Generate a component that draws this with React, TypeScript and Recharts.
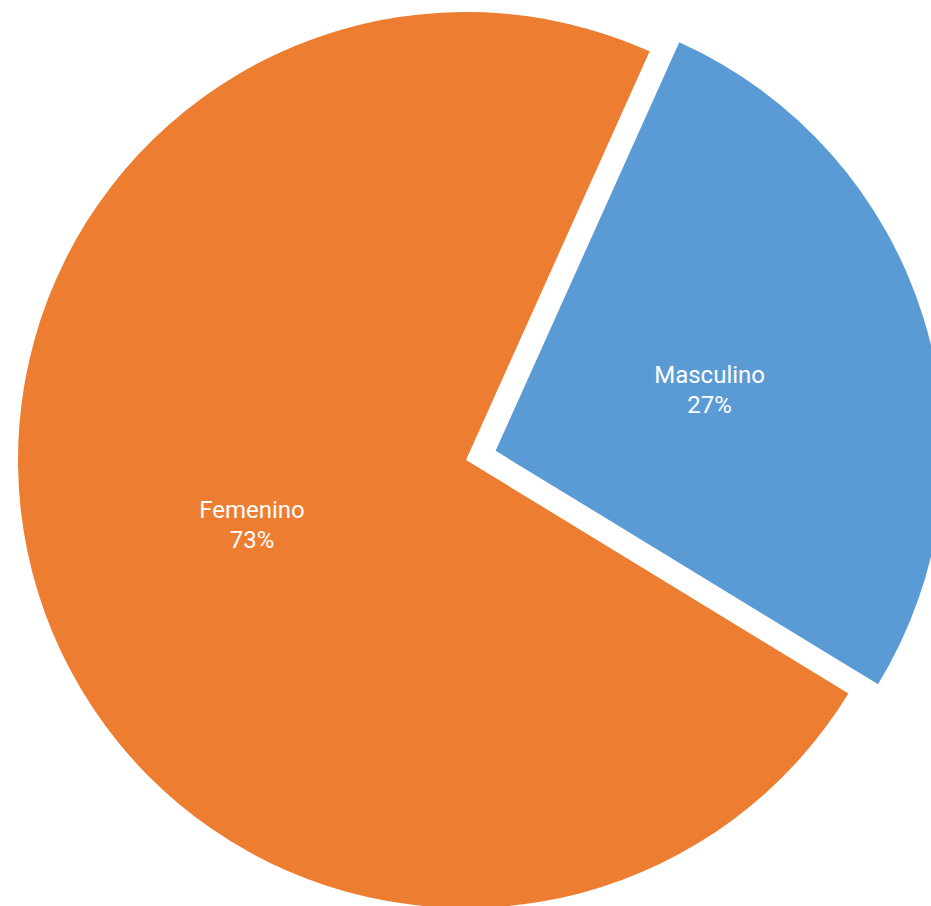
import React from 'react';
import { PieChart, Pie, Cell, Sector } from 'recharts';

const categories = ['Masculino', 'Femenino'];
const values = [27, 73];
const colors = ['#5B9BD5', '#ED7D31'];
const exploded = [true, false];

const data = categories.map((name, i) => ({ name, value: values[i], explode: exploded[i] }));

const RADIAN = Math.PI / 180;
const EXPLODE = 31;

const offsetFor = (midAngle: number, explode: boolean) => {
    if (!explode) return { dx: 0, dy: 0 };
    return { dx: EXPLODE * Math.cos(-midAngle * RADIAN), dy: EXPLODE * Math.sin(-midAngle * RADIAN) };
};

const renderShape = (props: any) => {
    const { cx, cy, midAngle, payload } = props;
    const { dx, dy } = offsetFor(midAngle, payload && payload.explode);
    return <Sector {...props} cx={cx + dx} cy={cy + dy} />;
};

const renderLabel = (props: any) => {
    const { cx, cy, midAngle, outerRadius, payload, name, value } = props;
    const isExploded = payload && payload.explode;
    const { dx, dy } = offsetFor(midAngle, isExploded);
    const r = outerRadius * 0.5;
    const x = cx + dx + r * Math.cos(-midAngle * RADIAN);
    // small nudge so the exploded label sits like the original
    const y = cy + dy + r * Math.sin(-midAngle * RADIAN) + (isExploded ? 5 : -1);
    return (
        <g>
            <text x={x} y={y - 15} fill="#fff" textAnchor="middle" dominantBaseline="central"
                fontFamily="Roboto" fontSize={24}>{name}</text>
            <text x={x} y={y + 15} fill="#fff" textAnchor="middle" dominantBaseline="central"
                fontFamily="Roboto" fontSize={24}>{value}%</text>
        </g>
    );
};

export default function App() {
    return (
        <div style={{ position: 'absolute', left: 0, top: 0, width: 931, height: 906, background: '#fff' }}>
            <PieChart width={931} height={906} margin={{ top: 0, right: 0, bottom: 0, left: 0 }}>
                <Pie
                    data={data}
                    dataKey="value"
                    nameKey="name"
                    cx={466}
                    cy={460}
                    outerRadius={448}
                    startAngle={65.8}
                    endAngle={-294.2}
                    stroke="none"
                    labelLine={false}
                    label={renderLabel}
                    shape={renderShape}
                    isAnimationActive={false}
                >
                    {data.map((d, i) => (
                        <Cell key={d.name} fill={colors[i]} />
                    ))}
                </Pie>
            </PieChart>
        </div>
    );
}
